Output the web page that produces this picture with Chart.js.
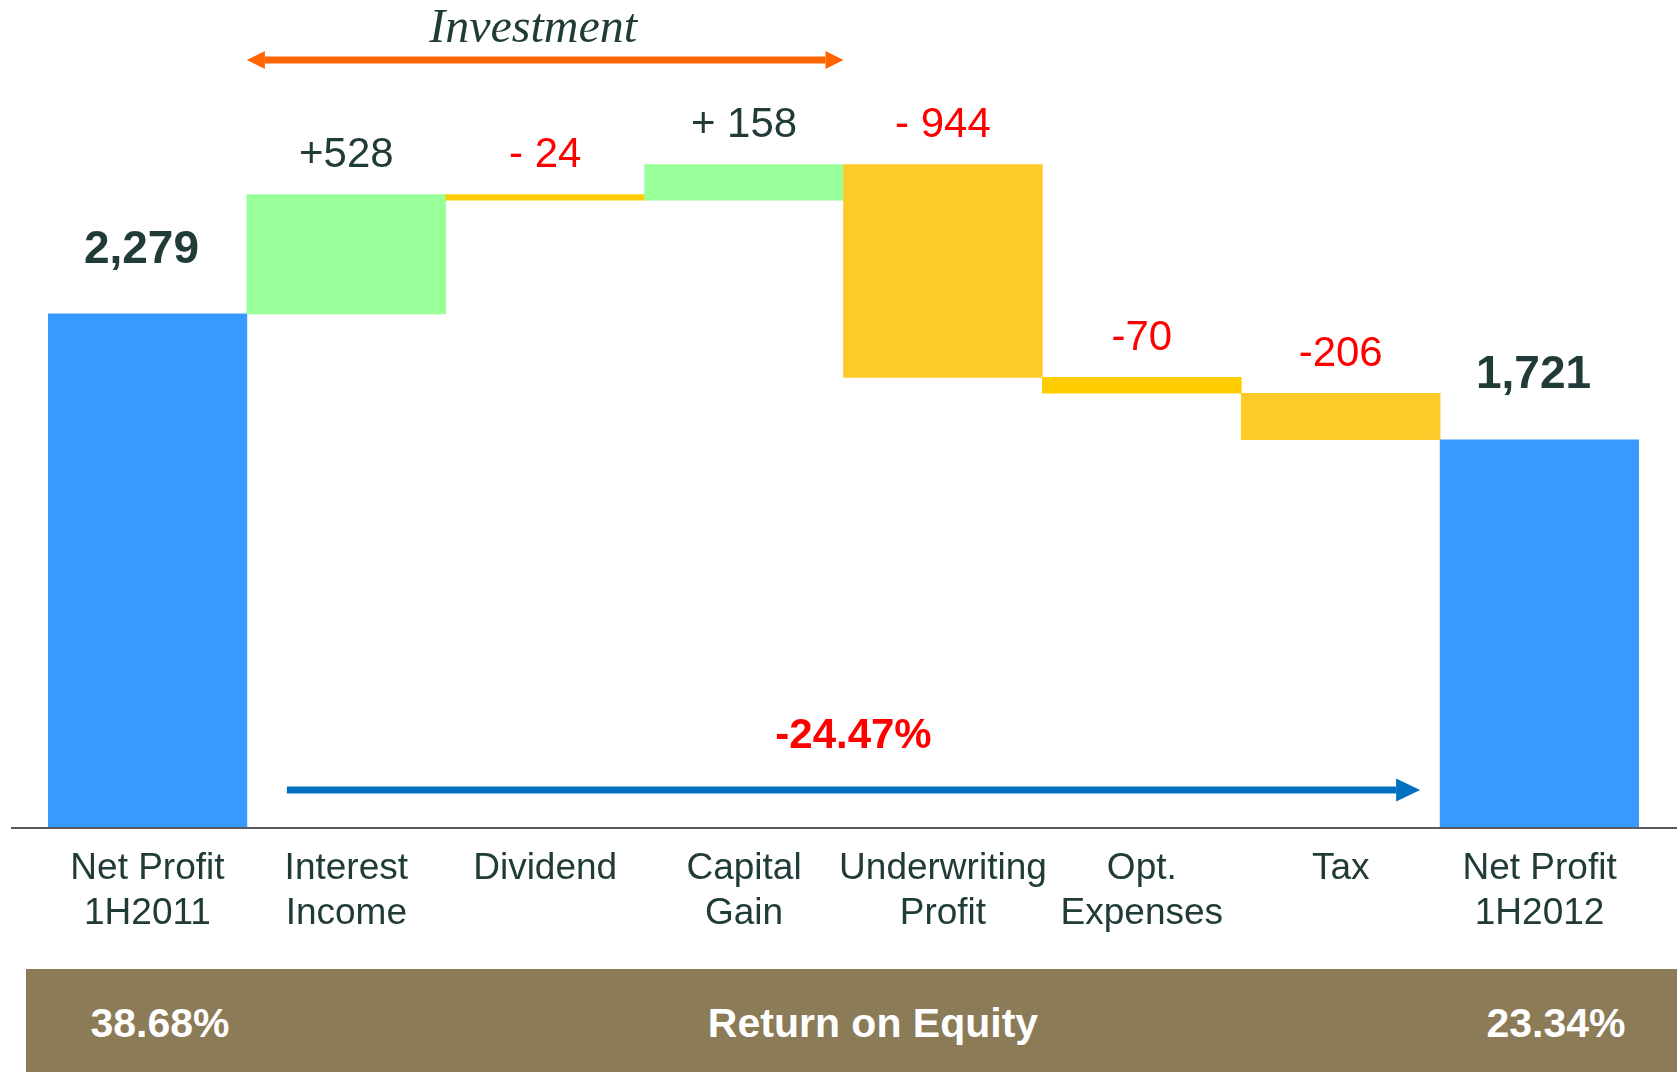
<!DOCTYPE html>
<html>
<head>
<meta charset="utf-8">
<script src="https://cdn.jsdelivr.net/npm/chart.js@4.4.1/dist/chart.umd.min.js"></script>
<style>
  body { margin: 0; background: #fff; font-family: "Liberation Sans", Arial, sans-serif; }
  #wrap { position: relative; width: 1677px; height: 1072px; overflow: hidden; }
  #roe-band {
    position: absolute; left: 26px; top: 969px; width: 1651px; height: 103px;
    background: #8b7b57; color: #fff; font-weight: bold; font-size: 41px;
  }
  #roe-band span { position: absolute; top: 54px; transform: translate(-50%, -50%); white-space: nowrap; }
</style>
</head>
<body>
<div id="wrap">
  <canvas id="waterfall" width="1677" height="969"></canvas>
  <div id="roe-band">
    <span id="roe-start" style="left:134px"></span>
    <span id="roe-title" style="left:847px"></span>
    <span id="roe-end" style="left:1530px"></span>
  </div>
</div>
<script>
//Categories (x axis)
const categories = [
  ["Net Profit", "1H2011"],
  ["Interest", "Income"],
  "Dividend",
  ["Capital", "Gain"],
  ["Underwriting", "Profit"],
  ["Opt.", "Expenses"],
  "Tax",
  ["Net Profit", "1H2012"],
];
//Opening net profit, the changes, closing net profit
const startValue = 2279;
const deltas = [528, -24, 158, -944, -70, -206];
const endValue = 1721;
//Texts drawn above the bars
const valueLabels = ["2,279", "+528", "- 24", "+ 158", "- 944", "-70", "-206", "1,721"];
const barColors = ["#3899ff", "#99ff99", "#ffcc00", "#99ff99", "#fdca29", "#ffcc00", "#fdca29", "#3899ff"];
const changeLabel = "-24.47%";
const roeStart = "38.68%";
const roeEnd = "23.34%";
const roeTitle = "Return on Equity";

document.getElementById("roe-start").textContent = roeStart;
document.getElementById("roe-end").textContent = roeEnd;
document.getElementById("roe-title").textContent = roeTitle;

//Build floating bars [low, high]
const floating = [[0, startValue]];
let running = startValue;
for (const d of deltas) {
  floating.push([Math.min(running, running + d), Math.max(running, running + d)]);
  running += d;
}
floating.push([0, endValue]);

const DARK = "#213c38";
const RED = "#ff0000";

function drawArrow(ctx, x1, x2, y, color, both, shaft, headLen, headH) {
  ctx.save();
  ctx.fillStyle = color;
  const sx1 = both ? x1 + headLen : x1;
  const sx2 = x2 - headLen;
  ctx.fillRect(sx1, y - shaft / 2, sx2 - sx1, shaft);
  ctx.beginPath();
  ctx.moveTo(x2, y);
  ctx.lineTo(sx2, y - headH / 2);
  ctx.lineTo(sx2, y + headH / 2);
  ctx.closePath();
  ctx.fill();
  if (both) {
    ctx.beginPath();
    ctx.moveTo(x1, y);
    ctx.lineTo(sx1, y - headH / 2);
    ctx.lineTo(sx1, y + headH / 2);
    ctx.closePath();
    ctx.fill();
  }
  ctx.restore();
}

const decorations = {
  id: "decorations",
  afterDatasetsDraw(chart) {
    const ctx = chart.ctx;
    const x = chart.scales.x;
    const y = chart.scales.y;
    const half = (x.getPixelForValue(1) - x.getPixelForValue(0)) / 2;
    const left = (i) => x.getPixelForValue(i) - half;
    const right = (i) => x.getPixelForValue(i) + half;

    //Baseline
    const y0 = y.getPixelForValue(0);
    ctx.save();
    ctx.strokeStyle = "#5a5a5a";
    ctx.lineWidth = 2;
    ctx.beginPath();
    ctx.moveTo(11, y0);
    ctx.lineTo(chart.width, y0);
    ctx.stroke();

    //Value labels
    ctx.textAlign = "center";
    ctx.textBaseline = "middle";
    floating.forEach((range, i) => {
      const top = y.getPixelForValue(range[1]);
      const total = i === 0 || i === floating.length - 1;
      if (total) {
        ctx.font = "bold 46px 'Liberation Sans', Arial, sans-serif";
        ctx.fillStyle = DARK;
        ctx.fillText(valueLabels[i], x.getPixelForValue(i) - 6, top - 64);
      } else {
        ctx.font = "42px 'Liberation Sans', Arial, sans-serif";
        ctx.fillStyle = deltas[i - 1] < 0 ? RED : DARK;
        ctx.fillText(valueLabels[i], x.getPixelForValue(i), top - 39);
      }
    });

    //Investment arrow
    const invL = left(1);
    const invR = right(3);
    drawArrow(ctx, invL, invR, 60, "#ff6600", true, 7, 18, 18);
    ctx.font = "italic 48px 'Liberation Serif', 'Times New Roman', serif";
    ctx.fillStyle = DARK;
    ctx.textBaseline = "alphabetic";
    ctx.fillText("Investment", (invL + invR) / 2 - 12, 42);

    //Overall change arrow
    const chL = left(1) + 40;
    const chR = left(7) - 20;
    drawArrow(ctx, chL, chR, 790, "#0070c0", false, 7, 24, 23);
    ctx.font = "bold 42px 'Liberation Sans', Arial, sans-serif";
    ctx.fillStyle = RED;
    ctx.textBaseline = "middle";
    ctx.fillText(changeLabel, (chL + chR) / 2, 736);
    ctx.restore();
  },
};

new Chart(document.getElementById("waterfall"), {
  type: "bar",
  data: {
    labels: categories,
    datasets: [
      {
        data: floating,
        backgroundColor: barColors,
        borderWidth: 0,
        borderSkipped: false,
        barPercentage: 1,
        categoryPercentage: 1,
      },
    ],
  },
  options: {
    responsive: false,
    animation: false,
    devicePixelRatio: 1,
    layout: { padding: { left: 48, right: 38, top: 0, bottom: 0 } },
    plugins: {
      legend: { display: false },
      tooltip: { enabled: false },
    },
    scales: {
      x: {
        grid: { display: false, drawTicks: false },
        border: { display: false },
        ticks: {
          color: DARK,
          padding: 18,
          maxRotation: 0,
          autoSkip: false,
          font: { family: "'Liberation Sans', Arial, sans-serif", size: 37, lineHeight: 1.22 },
        },
        afterFit: (scale) => {
          scale.height = 141;
        },
      },
      y: {
        display: false,
        min: 0,
        max: 3670,
      },
    },
  },
  plugins: [decorations],
});
</script>
</body>
</html>
